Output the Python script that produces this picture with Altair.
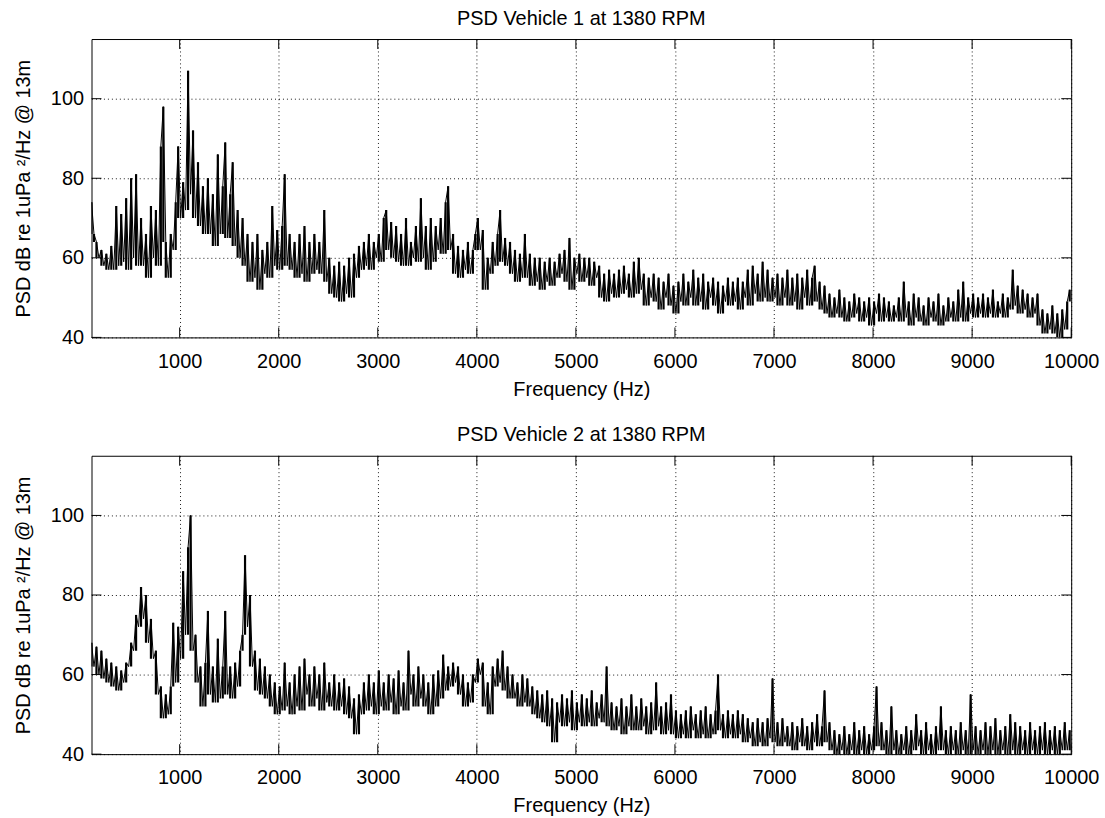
import altair as alt
import pandas as pd

# Frequency grid of the plotted PSD samples (Hz)
FREQ_START = 110
FREQ_STEP = 25

X_TICKS = [1000, 2000, 3000, 4000, 5000, 6000, 7000, 8000, 9000, 10000]
Y_TICKS = [40, 60, 80, 100]

TITLE_1 = "PSD Vehicle 1 at 1380 RPM"
TITLE_2 = "PSD Vehicle 2 at 1380 RPM"
X_TITLE = "Frequency (Hz)"
Y_TITLE = "PSD dB re 1uPa \u00b2/Hz @ 13m"

# Vehicle 1 PSD (dB), 25 Hz spacing starting at 110 Hz
psd_vehicle_1 = [
    74, 66, 64, 60, 62, 58, 61, 57, 63, 57, 73, 58, 71, 59, 75, 57, 80, 60, 81, 58,
    70, 58, 66, 55, 73, 60, 72, 58, 88, 98, 64, 55, 66, 62, 74, 88, 70, 79, 72, 107,
    76, 92, 70, 84, 68, 78, 66, 80, 66, 76, 63, 86, 66, 78, 89, 65, 76, 84, 63, 72,
    60, 70, 58, 66, 54, 64, 55, 66, 52, 62, 56, 64, 55, 73, 58, 67, 57, 68, 81, 58,
    66, 57, 64, 55, 66, 56, 68, 54, 64, 56, 66, 57, 64, 56, 72, 54, 60, 51, 58, 50,
    59, 49, 58, 51, 60, 50, 61, 55, 63, 57, 64, 58, 66, 57, 64, 60, 66, 59, 70, 72,
    62, 69, 60, 68, 59, 66, 58, 70, 58, 64, 60, 68, 59, 75, 60, 68, 57, 70, 59, 68,
    62, 70, 61, 74, 78, 62, 66, 56, 63, 55, 62, 57, 64, 56, 62, 66, 70, 62, 67, 52,
    60, 56, 64, 58, 66, 72, 59, 65, 58, 64, 56, 62, 54, 61, 55, 66, 55, 61, 53, 60,
    54, 60, 52, 59, 54, 60, 53, 59, 55, 61, 56, 62, 54, 65, 52, 60, 56, 61, 54, 60,
    55, 60, 53, 59, 55, 58, 50, 56, 49, 57, 51, 56, 50, 57, 51, 58, 52, 56, 50, 59,
    51, 60, 52, 56, 48, 55, 50, 56, 49, 55, 47, 54, 50, 56, 48, 53, 46, 54, 49, 56,
    48, 54, 50, 57, 48, 55, 49, 56, 47, 54, 50, 55, 48, 54, 46, 53, 49, 55, 48, 54,
    49, 55, 47, 54, 50, 57, 48, 58, 51, 56, 49, 59, 50, 57, 49, 55, 50, 56, 48, 55,
    50, 57, 48, 55, 49, 56, 47, 55, 50, 57, 48, 55, 58, 49, 54, 47, 53, 46, 51, 45,
    50, 46, 52, 45, 50, 44, 49, 45, 51, 46, 50, 44, 49, 45, 50, 43, 49, 46, 51, 44,
    50, 45, 49, 44, 48, 45, 50, 44, 54, 45, 49, 43, 51, 45, 50, 44, 48, 43, 50, 45,
    49, 44, 51, 43, 48, 44, 50, 45, 49, 44, 52, 45, 54, 44, 50, 46, 51, 45, 50, 46,
    51, 45, 50, 46, 52, 45, 49, 46, 51, 45, 50, 47, 57, 48, 53, 46, 52, 47, 51, 45,
    50, 46, 51, 43, 47, 41, 46, 42, 48, 41, 46, 40, 47, 42, 49, 52,
]

# Vehicle 2 PSD (dB), same frequency grid
psd_vehicle_2 = [
    68, 62, 67, 60, 66, 59, 64, 58, 63, 57, 62, 56, 61, 58, 63, 62, 68, 66, 75, 72,
    82, 74, 80, 68, 74, 64, 66, 55, 57, 49, 55, 50, 57, 73, 58, 72, 64, 86, 70, 92,
    100, 66, 70, 58, 62, 52, 63, 76, 55, 62, 53, 69, 54, 62, 76, 55, 62, 54, 63, 57,
    66, 70, 90, 72, 80, 62, 66, 56, 64, 55, 62, 54, 60, 52, 58, 50, 57, 51, 63, 52,
    58, 50, 60, 52, 62, 51, 64, 55, 60, 52, 62, 54, 60, 51, 63, 53, 58, 52, 60, 51,
    58, 52, 59, 50, 57, 49, 54, 45, 55, 50, 58, 51, 60, 52, 58, 50, 61, 52, 58, 51,
    60, 53, 59, 50, 61, 52, 58, 51, 66, 55, 60, 52, 62, 54, 60, 52, 58, 50, 60, 52,
    61, 54, 65, 56, 62, 57, 63, 58, 62, 55, 60, 52, 58, 53, 60, 58, 64, 60, 63, 52,
    58, 50, 62, 57, 64, 58, 66, 56, 62, 54, 60, 54, 58, 52, 60, 53, 59, 52, 57, 50,
    56, 49, 55, 48, 56, 47, 54, 43, 53, 48, 55, 47, 54, 48, 56, 46, 53, 48, 55, 47,
    54, 48, 56, 47, 53, 49, 55, 48, 62, 47, 53, 46, 52, 47, 54, 45, 52, 47, 55, 46,
    52, 46, 54, 47, 52, 45, 53, 46, 58, 47, 52, 45, 53, 46, 55, 45, 51, 44, 50, 45,
    51, 44, 52, 46, 50, 44, 51, 45, 52, 44, 50, 45, 51, 60, 46, 50, 44, 51, 45, 50,
    44, 51, 45, 50, 43, 49, 44, 48, 42, 49, 43, 48, 42, 49, 44, 59, 43, 48, 42, 49,
    43, 47, 42, 48, 41, 47, 43, 49, 42, 47, 41, 48, 43, 50, 42, 47, 56, 43, 48, 41,
    46, 40, 45, 41, 47, 40, 45, 41, 48, 40, 46, 41, 47, 40, 45, 41, 47, 57, 42, 48,
    41, 46, 40, 52, 41, 46, 40, 45, 41, 47, 40, 46, 41, 50, 42, 46, 40, 48, 41, 45,
    40, 47, 41, 52, 41, 46, 40, 47, 41, 46, 40, 48, 41, 46, 40, 55, 41, 47, 40, 46,
    41, 48, 40, 47, 41, 49, 40, 46, 41, 47, 40, 50, 41, 48, 40, 47, 41, 46, 40, 48,
    41, 46, 40, 47, 41, 48, 40, 46, 41, 47, 40, 46, 41, 48, 41, 46,
]

W, H = 985, 300
FONT = "Liberation Sans"
FS = 20
TICK_LEN = 10


def panel(vals, title):
    freqs = [FREQ_START + FREQ_STEP * i for i in range(len(vals))]
    df = pd.DataFrame({"f": freqs, "psd": vals})
    xscale = alt.Scale(domain=[110, 10000], nice=False, zero=False)
    yscale = alt.Scale(domain=[40, 115], nice=False, zero=False)
    xaxis = alt.Axis(values=X_TICKS, format="d", title=X_TITLE, grid=True,
                     ticks=False, domain=False, labelFlush=False, labelOverlap=False,
                     labelPadding=14, titlePadding=8)
    yaxis = alt.Axis(values=Y_TICKS, format="d", title=Y_TITLE, grid=True,
                     ticks=False, domain=False, labelFlush=False, labelOverlap=False,
                     labelPadding=8, titlePadding=17)
    X = alt.X("f:Q", scale=xscale, axis=xaxis)
    Y = alt.Y("psd:Q", scale=yscale, axis=yaxis)
    base = alt.Chart(df)
    line = base.mark_line(color="black", strokeWidth=1, clip=True).encode(x=X, y=Y)
    fill = base.transform_window(
        lo="min(psd)", frame=[-1, 1], sort=[alt.SortField("f")]
    ).mark_rule(color="black", strokeWidth=2.2, clip=True).encode(
        x=X, y=Y, y2=alt.Y2("lo:Q"))
    xt = pd.DataFrame({"f": X_TICKS})
    yt = pd.DataFrame({"psd": Y_TICKS})
    xb = alt.Chart(xt).mark_rule(color="black", strokeWidth=1).encode(
        x=X, y=alt.value(H), y2=alt.value(H - TICK_LEN))
    xtp = alt.Chart(xt).mark_rule(color="black", strokeWidth=1).encode(
        x=X, y=alt.value(0), y2=alt.value(TICK_LEN))
    yl = alt.Chart(yt).mark_rule(color="black", strokeWidth=1).encode(
        y=Y, x=alt.value(0), x2=alt.value(TICK_LEN))
    yr = alt.Chart(yt).mark_rule(color="black", strokeWidth=1).encode(
        y=Y, x=alt.value(W - TICK_LEN), x2=alt.value(W))
    return alt.layer(line, fill, xb, xtp, yl, yr).properties(
        width=W, height=H,
        title=alt.TitleParams(text=title, anchor="middle", frame="group",
                              fontSize=FS, font=FONT, fontWeight="normal",
                              color="black", offset=10),
    )


chart = alt.vconcat(panel(psd_vehicle_1, TITLE_1), panel(psd_vehicle_2, TITLE_2),
                    spacing=25).properties(
    padding={"left": 13, "top": 6, "right": 5, "bottom": 5},
    background="white",
).configure_view(stroke="black", strokeWidth=1).configure_axis(
    labelFont=FONT, labelFontSize=FS, labelColor="black",
    titleFont=FONT, titleFontSize=FS, titleColor="black", titleFontWeight="normal",
    gridColor="black", gridDash=[1, 3], gridOpacity=0.9, gridWidth=1,
)

chart.save("out.html", embed_options={"renderer": "svg", "actions": False})
